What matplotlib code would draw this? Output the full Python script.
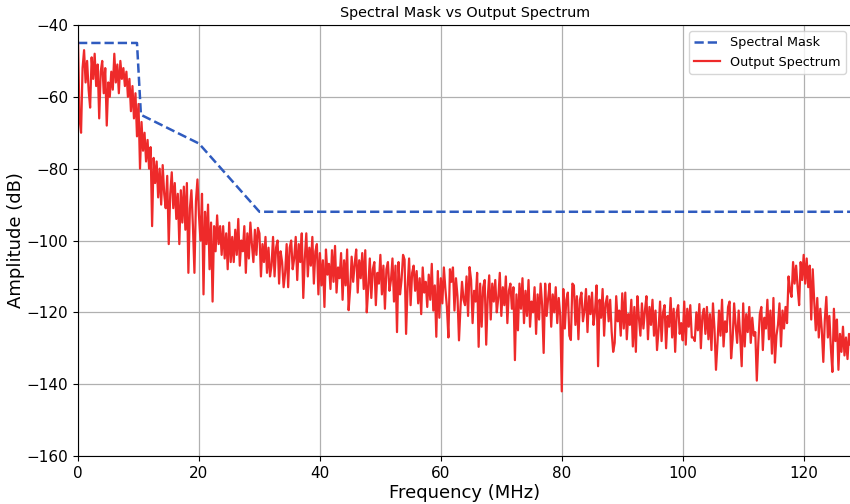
import numpy as np
import matplotlib
matplotlib.use('Agg')
import matplotlib.pyplot as plt

# spectral mask corner points
mask_freq = [0, 9.75, 10.4, 20, 30, 128]
mask_db = [-45, -45, -65, -73, -92, -92]

# output spectrum, one bin every 0.25 MHz in 8 MHz chunks
spec_0_8 = [-45, -66, -70, -52, -47, -56, -50, -58, -63, -49, -55, -48, -57, -51, -66, -53,
            -50, -59, -52, -68, -56, -60, -53, -58, -48, -56, -51, -59, -50, -55, -52, -57]
spec_8_16 = [-53, -60, -55, -64, -57, -66, -59, -71, -62, -80, -67, -75, -70, -78, -72, -80,
             -74, -96, -77, -84, -78, -88, -80, -90, -79, -87, -91, -82, -101, -87, -81, -91]
spec_16_24 = [-84, -94, -87, -101, -86, -95, -85, -97, -84, -109, -91, -86, -96, -109, -89, -83,
              -93, -100, -87, -115, -92, -101, -90, -108, -95, -117, -96, -103, -93, -101, -96, -104]
spec_24_32 = [-96, -105, -98, -108, -95, -106, -99, -106, -97, -104, -94, -107, -100, -103, -96, -109,
              -98, -105, -95, -101, -106, -97, -104, -96.5, -98, -110, -101, -106, -99, -109, -102, -110]
spec_32_40 = [-107, -99, -110, -102, -100, -112, -103, -106, -113, -109, -101, -113, -102, -100, -108, -105,
              -99, -111, -101, -106, -98, -116, -105, -98, -110, -102, -107, -99, -112, -103, -101, -115]
spec_40_48 = [-103.5, -112.5, -105.5, -118.5, -102.5, -109.5, -106.5, -113.5, -102.7, -111.5, -101.5, -114.5,
              -107.5, -110.5, -103.5, -116.5, -105.5, -112.5, -102.5, -119.4, -113.5, -104.5, -111.5, -106.5,
              -102.5, -114.5, -105.5, -110.5, -103.5, -113.5, -102.7, -120]
spec_48_56 = [-113, -105, -116, -108, -106, -118, -109, -112, -104, -115, -107, -119, -108, -106, -114, -111,
              -105, -117, -107, -125.5, -106, -115, -111, -104, -105.3, -126, -113, -105, -118, -109, -107, -114]
spec_56_64 = [-108.5, -117.5, -110.5, -120.5, -107.5, -114.5, -111.5, -118.5, -109.5, -116.5, -106.5, -119.5,
              -112.5, -126.8, -108.5, -121.5, -110.5, -117.5, -107.5, -113.5, -118.5, -127, -108, -111.5,
              -107.5, -119.5, -110.5, -115.5, -127.8, -118.5, -111.5, -116.5]
spec_64_72 = [-118, -110, -121, -107.4, -111, -123, -114, -117, -109, -129.6, -112, -124, -113, -111, -129, -116,
              -109.7, -122, -112, -117, -111, -120, -116, -109, -121, -113, -118, -110, -123, -114, -112, -119]
spec_72_80 = [-113, -133.3, -115, -125, -112, -119, -110.5, -123, -114, -121, -111, -124, -117, -120, -113, -126,
              -115, -122, -112, -118, -131.3, -112, -121, -116, -112, -124, -115, -120, -113, -123, -116, -121]
spec_80_88 = [-142, -113.5, -124.5, -116.5, -114.5, -126.5, -127.7, -112, -112.5, -123.5, -115.5, -127.5,
              -116.5, -114.5, -122.5, -119.5, -113.5, -125.5, -115.5, -120.5, -114.5, -123.5, -119.5, -112.5,
              -135, -116.5, -121.5, -113.5, -126.5, -117.5, -115.5, -122.5]
spec_88_96 = [-116.5, -125.5, -131, -128.5, -115.5, -122.5, -119.5, -126.5, -114.7, -124.5, -114.5, -127.5,
              -120.5, -123.5, -116.5, -129.5, -118.5, -131, -115.5, -121.5, -126.5, -117.5, -124.5, -119.5,
              -115.5, -127.5, -118.5, -123.5, -116.5, -126.5, -119.5, -130.5]
spec_96_104 = [-125, -117, -128, -120, -118, -130, -121, -124, -116, -127, -119, -131, -120, -118, -126, -123,
               -127.8, -117, -129, -119, -124, -118, -127, -127, -128, -120, -125, -117.7, -130, -121, -119, -126]
spec_104_112 = [-118.5, -127.5, -120.5, -130.5, -117.5, -124.5, -136, -128.5, -119.5, -126.5, -116.5, -129.5,
                -122.5, -125.5, -118.5, -117, -132.8, -127.5, -117.5, -123.5, -128.5, -119.5, -126.5, -135,
                -117.5, -129.5, -120.5, -125.5, -118.5, -128.5, -121.5, -126.5]
spec_112_120 = [-125.5, -139, -128.5, -120.5, -118.5, -130.5, -121.5, -124.5, -116.5, -127.5, -119.5, -131.5,
                -116, -134, -126.5, -123.5, -117.5, -129.5, -119.5, -124.5, -118.5, -123, -110, -114,
                -115.7, -106, -112, -107, -113, -118, -106, -111]
spec_120_128 = [-104, -112, -105, -113, -107, -122, -108, -117, -125, -116, -127, -119, -125, -133.8, -122, -115.7,
                -127, -121, -130, -136.6, -119, -128, -122, -136, -126, -131, -124, -132, -127, -133, -126, -129]

spectrum = (spec_0_8 + spec_8_16 + spec_16_24 + spec_24_32 + spec_32_40 + spec_40_48 + spec_48_56 + spec_56_64
            + spec_64_72 + spec_72_80 + spec_80_88 + spec_88_96 + spec_96_104 + spec_104_112 + spec_112_120
            + spec_120_128)
freq = np.arange(len(spectrum)) * 0.25

fig = plt.figure(figsize=(8.5, 5.04), dpi=100)
ax = fig.add_axes([0.0918, 0.0952, 0.9106, 0.8552])

ax.plot(mask_freq, mask_db, '--', color='#2f5bbf', linewidth=1.8, label='Spectral Mask')
ax.plot(freq, spectrum, color='#ee2a2a', linewidth=1.6, label='Output Spectrum')

ax.set_xlim(0, 128)
ax.set_ylim(-160, -40)
ax.set_xticks([0, 20, 40, 60, 80, 100, 120])
ax.set_yticks(range(-160, -39, 20))
ax.tick_params(labelsize=11)
ax.grid(True, color='#b0b0b0', linewidth=0.9)
ax.set_axisbelow(True)

ax.set_title('Spectral Mask vs Output Spectrum', fontsize=10.4)
ax.set_xlabel('Frequency (MHz)', fontsize=13, labelpad=2)
ax.set_ylabel('Amplitude (dB)', fontsize=13, labelpad=1)
ax.legend(loc='upper right', fontsize=9.2)

fig.savefig('out.png', dpi=100)
